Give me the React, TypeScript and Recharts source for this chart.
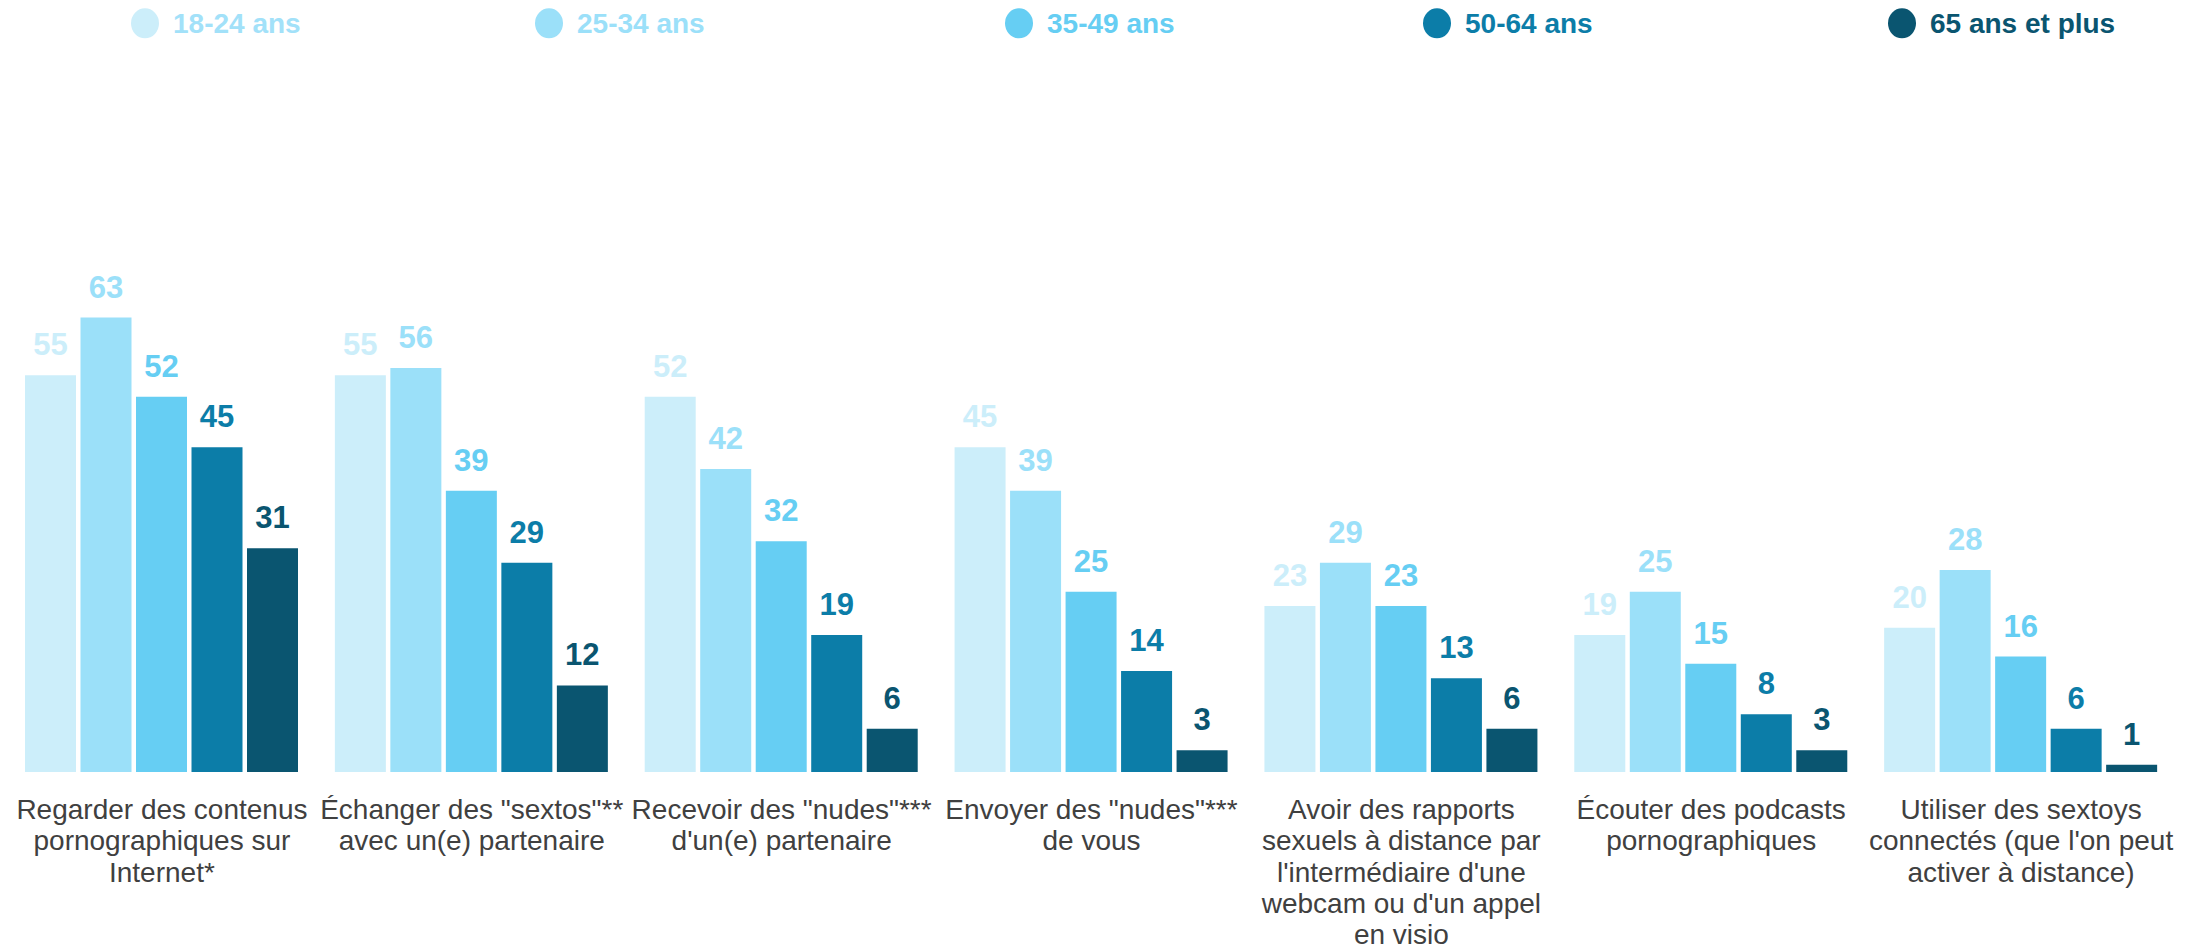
import { BarChart, Bar, XAxis, YAxis, Legend, LabelList } from "recharts";

const categories = [
  "Regarder des contenus\npornographiques sur\nInternet*",
  "Échanger des \"sextos\"**\navec un(e) partenaire",
  "Recevoir des \"nudes\"***\nd'un(e) partenaire",
  "Envoyer des \"nudes\"***\nde vous",
  "Avoir des rapports\nsexuels à distance par\nl'intermédiaire d'une\nwebcam ou d'un appel\nen visio",
  "Écouter des podcasts\npornographiques",
  "Utiliser des sextoys\nconnectés (que l'on peut\nactiver à distance)",
];

const age18_24 = [55, 55, 52, 45, 23, 19, 20];
const age25_34 = [63, 56, 42, 39, 29, 25, 28];
const age35_49 = [52, 39, 32, 25, 23, 15, 16];
const age50_64 = [45, 29, 19, 14, 13, 8, 6];
const age65plus = [31, 12, 6, 3, 6, 3, 1];

const seriesNames = ["18-24 ans", "25-34 ans", "35-49 ans", "50-64 ans", "65 ans et plus"];
const colors = ["#cceefa", "#9be0f9", "#66cef3", "#0c7da8", "#0a5570"];
const legendText = ["#a2e1f9", "#9be0f9", "#66cef3", "#0c7da8", "#0a5570"];
const legendX = [145, 549, 1019, 1437, 1902];

const data = categories.map((cat, i) => ({
  cat,
  s1: age18_24[i],
  s2: age25_34[i],
  s3: age35_49[i],
  s4: age50_64[i],
  s5: age65plus[i],
}));

const FONT = "'Liberation Sans', Arial, sans-serif";

const CategoryTick = ({ x, y, payload }: any) => {
  const lines = String(payload.value).split("\n");
  return (
    <text x={x} y={y} textAnchor="middle" fill="#404040" fontSize={28} fontFamily={FONT}>
      {lines.map((l, i) => (
        <tspan key={i} x={x} dy={i === 0 ? 47 : 31.3}>
          {l}
        </tspan>
      ))}
    </text>
  );
};

const TopLegend = () => (
  <svg width={2196} height={50}>
    {seriesNames.map((name, i) => (
      <g key={name}>
        <ellipse cx={legendX[i]} cy={23.3} rx={14} ry={15} fill={colors[i]} />
        <text
          x={legendX[i] + 28}
          y={33}
          fill={legendText[i]}
          fontSize={28}
          fontWeight="bold"
          fontFamily={FONT}
        >
          {name}
        </text>
      </g>
    ))}
  </svg>
);

export default function App() {
  const keys = ["s1", "s2", "s3", "s4", "s5"];
  return (
    <div style={{ position: "absolute", left: 0, top: 0, background: "#fff" }}>
      <BarChart
        width={2196}
        height={950}
        data={data}
        margin={{ top: 267, right: 20, left: 7, bottom: 0 }}
        barCategoryGap={18}
        barGap={4.5}
      >
        <XAxis
          dataKey="cat"
          height={178}
          axisLine={false}
          tickLine={false}
          tickSize={0}
          tickMargin={0}
          interval={0}
          tick={<CategoryTick />}
        />
        <YAxis hide domain={[0, 70]} />
        <Legend
          layout="horizontal"
          verticalAlign="middle"
          align="center"
          wrapperStyle={{ top: 0, left: 0, width: 2196, height: 50 }}
          content={<TopLegend />}
        />
        {keys.map((k, i) => (
          <Bar key={k} dataKey={k} name={seriesNames[i]} fill={colors[i]} isAnimationActive={false}>
            <LabelList
              dataKey={k}
              position="top"
              offset={20}
              fill={colors[i]}
              fontSize={31}
              fontWeight="bold"
              fontFamily={FONT}
            />
          </Bar>
        ))}
      </BarChart>
    </div>
  );
}
